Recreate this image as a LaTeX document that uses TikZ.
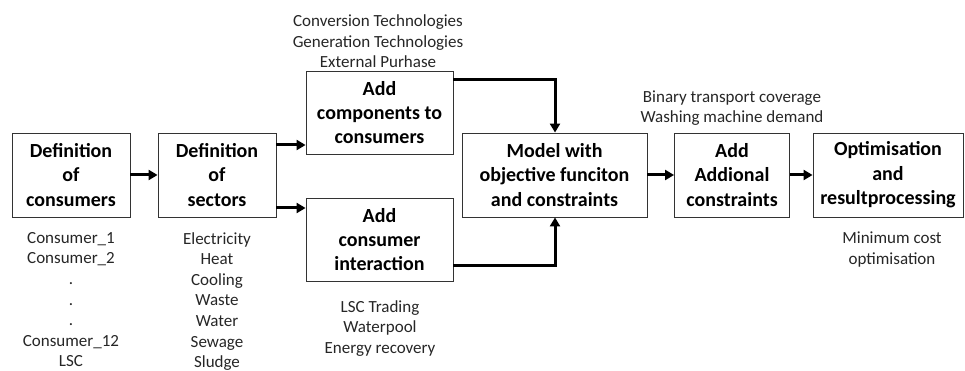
\documentclass[tikz,border=0pt]{standalone}
\usepackage{fontspec}
\setmainfont{Carlito}
\usetikzlibrary{arrows.meta}
\tikzset{
  stage/.style={draw=black!80, line width=0.9pt, fill=white, align=center,
    inner sep=0pt, font=\fontsize{20}{24.4}\selectfont\bfseries},
  note/.style={align=center, inner sep=0pt, text=black!85,
    font=\fontsize{17}{20.6}\selectfont},
  flow/.style={line width=3pt, -{Triangle[length=9pt,width=10pt]}},
}
\begin{document}
\begin{tikzpicture}[x=1pt,y=-1pt]
\useasboundingbox (0,0) rectangle (965,371);

% process stages
\node[stage, minimum width=118pt, minimum height=84pt] (cons) at (71,175) {Definition\\of\\consumers};
\node[stage, minimum width=118pt, minimum height=84pt] (sect) at (217,175) {Definition\\of\\sectors};
\node[stage, minimum width=147pt, minimum height=83pt] (comp) at (379.5,112.5) {Add\\components to\\consumers};
\node[stage, minimum width=147pt, minimum height=83pt] (inter) at (379.5,239.5) {Add\\consumer\\interaction};
\node[stage, minimum width=185pt, minimum height=84pt] (model) at (554.5,175) {Model with\\objective funciton\\and constraints};
\node[stage, minimum width=115pt, minimum height=84pt] (addc) at (732,175) {Add\\Addional\\constraints};
\node[stage, minimum width=150pt, minimum height=84pt] (opt) at (888,175) {Optimisation\\and\\resultprocessing};

% annotations
\node[note, anchor=north] (consl) at (71,232) {Consumer\_1\\Consumer\_2\\.\\.\\.\\Consumer\_12\\LSC};
\node[note, anchor=north] (sectl) at (217,232) {Electricity\\Heat\\Cooling\\Waste\\Water\\Sewage\\Sludge};
\node[note, anchor=south] (compl) at (378,68) {Conversion Technologies\\Generation Technologies\\External Purhase};
\node[note, anchor=north] (interl) at (380,300) {LSC Trading\\Waterpool\\Energy recovery};
\node[note, anchor=south] (addcl) at (732,126) {Binary transport coverage\\Washing machine demand};
\node[note, anchor=north] (optl) at (892,232) {Minimum cost\\optimisation};

% connectors
\draw[flow] (cons.east) -- (sect.west);
\draw[flow] (sect.east |- 0,145) -- (comp.west |- 0,145);
\draw[flow] (sect.east |- 0,208) -- (inter.west |- 0,208);
\coordinate (topbend) at (555,80);
\coordinate (botbend) at (555,265);
\draw[flow] (comp.east |- topbend) -- (topbend) -- (topbend |- model.north);
\draw[flow] (inter.east |- botbend) -- (botbend) -- (botbend |- model.south);
\draw[flow] (model.east) -- (addc.west);
\draw[flow] (addc.east) -- (opt.west);
\end{tikzpicture}
\end{document}
